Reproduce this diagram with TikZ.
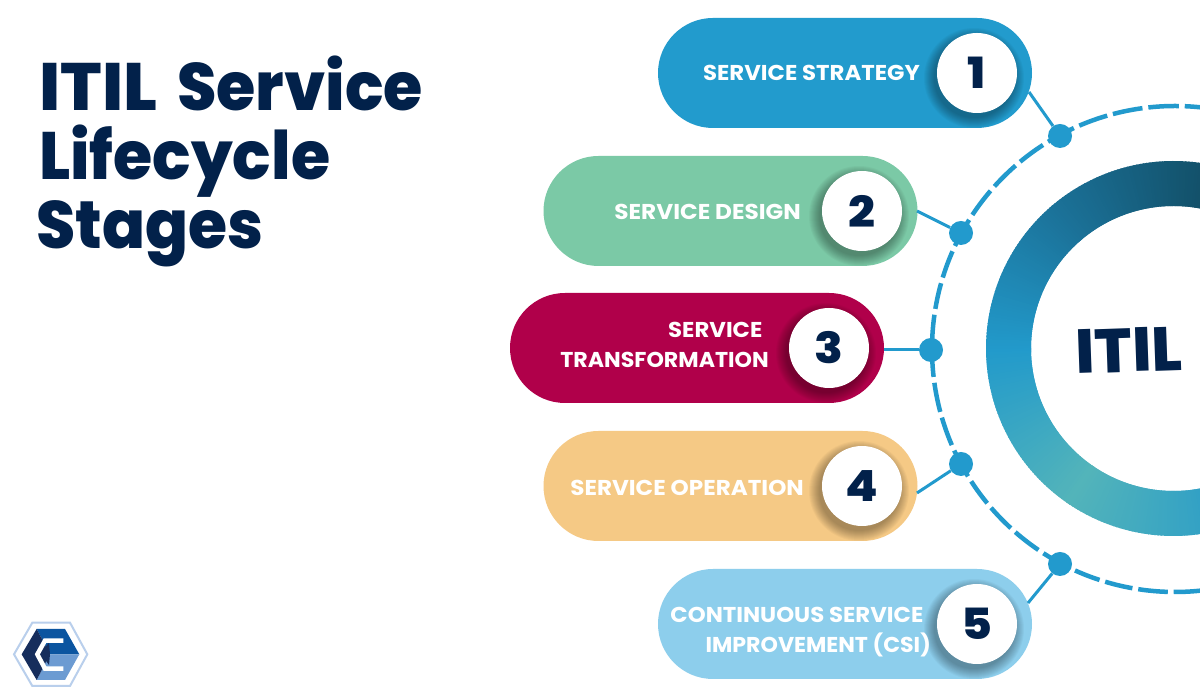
\documentclass[tikz,border=0pt]{standalone}
\usepackage{fontspec}
\setmainfont{Poppins}[BoldFont={Poppins Bold}]
\newfontfamily\heavyfont{Poppins ExtraBold}
\usetikzlibrary{shapes.misc}
\definecolor{navy}{HTML}{02214A}
\definecolor{ringblue}{HTML}{229ACD}
\definecolor{cOne}{HTML}{229BCD}
\definecolor{cTwo}{HTML}{7BC9A6}
\definecolor{cThree}{HTML}{B0004A}
\definecolor{cFour}{HTML}{F5C985}
\definecolor{cFive}{HTML}{8DCEEC}
\definecolor{gA}{HTML}{124E66}
\definecolor{gAB}{HTML}{1B7299}
\definecolor{gB}{HTML}{229ACB}
\definecolor{gC}{HTML}{53B4BA}
\definecolor{gD}{HTML}{2F9FC6}
\definecolor{logoEdge}{HTML}{B9CFEC}
\definecolor{logoTop}{HTML}{0B55A0}
\definecolor{logoLow}{HTML}{6C9BD2}
\definecolor{logoDark}{HTML}{162D5C}
\newcommand{\ringseg}[4]{%
  \foreach \a in {#1,...,#2}{%
    \pgfmathsetmacro\p{100*(\a-#1)/(#2-#1)}%
    \colorlet{segc}{#4!\p!#3}%
    \draw[line width=45pt,segc] (1173.5,351.5) ++(\a:165pt) arc[start angle=\a,end angle=\a+1.6,radius=165pt];
  }}
\newcommand{\discshadow}[2]{%
  \foreach \r in {40,41,...,50}{%
    \fill[black,opacity=.03] (#1-3,#2-5) circle[radius=\r pt];
  }}
\newcommand{\widen}[2]{\scalebox{#1}[1]{#2}}
\newcommand{\digit}[1]{\raisebox{-1pt}{\widen{1.1}{#1}}}
\tikzset{
  x=1pt,y=1pt,
  pillnode/.style={rounded rectangle,minimum width=374pt,minimum height=110pt,inner sep=0pt,draw=none},
  numdisc/.style={circle,fill=white,minimum size=80pt,inner sep=0pt,text=navy,font=\heavyfont\fontsize{43}{43}\selectfont},
  pilltxt/.style={text=white,inner sep=0pt,align=right,transform shape,xscale=1.06,font=\fontsize{21.5}{29.5}\selectfont\bfseries},
  dotnode/.style={circle,fill=ringblue,minimum size=24pt,inner sep=0pt},
  linkline/.style={draw=ringblue,line width=3pt},
  dashring/.style={draw=ringblue,line width=4.5pt}
}
\begin{document}
\begin{tikzpicture}
\useasboundingbox (0,0) rectangle (1200,700);
\clip (0,0) rectangle (1200,700);
\fill[white] (0,0) rectangle (1200,700);
% title
\node[anchor=north west,inner sep=0pt,text=navy,align=left,font=\heavyfont\fontsize{67}{68.7}\selectfont] (title) at (39,644) {\widen{1.03}{ITIL}\hspace{7pt} \widen{.95}{Service}\\\widen{.948}{Lifecycle}\\\hspace*{-3pt}\widen{.945}{Stages}};
% gradient ring
\ringseg{76}{130}{gA}{gAB}
\ringseg{130}{180}{gAB}{gB}
\ringseg{180}{235}{gB}{gC}
\ringseg{235}{285}{gC}{gD}
\node[text=navy,font=\heavyfont\fontsize{62}{62}\selectfont,rotate=2,inner sep=0pt] (itil) at (1129,350) {ITIL};
% dashed ring
\foreach \s/\e in {80/87.7,89.1/96.3,97.7/104.8,106.2/113.2,114.6/121.5,122.9/129.6,131/138,139.4/146.5,147.9/154.9,156.3/162.9,164.3/170.5,171.9/186.6,188/195,196.4/203.3,204.7/211.6,213/219.4,220.8/227.5,228.9/235.8,237.2/244.3,245.7/251.9,253.3/259.9,261.3/268.3,269.7/280}{
  \draw[dashring] (1175,351) ++(\s:243pt) arc[start angle=\s,end angle=\e,radius=243pt];
}
% pills
\node[pillnode,fill=cOne] (p1) at (845,627) {};
\node[pillnode,fill=cTwo] (p2) at (730.5,489) {};
\node[pillnode,fill=cThree] (p3) at (697,352) {};
\node[pillnode,fill=cFour] (p4) at (730.5,214) {};
\node[pillnode,fill=cFive] (p5) at (845,76) {};
% dots
\node[dotnode] (d1) at (1060,564) {};
\node[dotnode] (d2) at (961,467) {};
\node[dotnode] (d3) at (931,350) {};
\node[dotnode] (d4) at (961,236) {};
\node[dotnode] (d5) at (1060,136) {};
% connectors
\coordinate (c1) at (1029,608);
\coordinate (c2) at (917,489);
\coordinate (c3) at (884,350);
\coordinate (c4) at (917,207);
\coordinate (c5) at (1028,97);
\draw[linkline] (c1) -- (d1);
\draw[linkline] (c2) -- (d2);
\draw[linkline] (c3) -- (d3);
\draw[linkline] (c4) -- (d4);
\draw[linkline] (c5) -- (d5);
% disc shadows and number discs
\discshadow{977}{627}
\discshadow{862}{489}
\discshadow{829}{352}
\discshadow{862}{214}
\discshadow{977}{76}
\node[numdisc] (n1) at (977,627) {\digit{1}};
\node[numdisc] (n2) at (862,489) {\digit{2}};
\node[numdisc] (n3) at (829,352) {\digit{3}};
\node[numdisc] (n4) at (862,214) {\digit{4}};
\node[numdisc] (n5) at (977,76) {\digit{5}};
% labels
\node[pilltxt,anchor=east] (t1) at (920,627.5) {SERVICE STRATEGY};
\node[pilltxt,anchor=east,xscale=1.017] (t2) at (801,488.5) {SERVICE DESIGN};
\node[pilltxt,anchor=east] (t3) at (769,355) {SERVICE\hspace*{6pt}\\\widen{.972}{TRANSFORMATION}};
\node[pilltxt,anchor=east,xscale=1.013] (t4) at (804,212.5) {SERVICE OPERATION};
\node[pilltxt,anchor=east] (t5) at (931,68) {CONTINUOUS SERVICE\hspace*{7pt}\\\widen{.97}{IMPROVEMENT (CSI)}};
% logo
\begin{scope}[shift={(0pt,90pt)},x=0.3333pt,y=-0.3333pt]
  \draw[logoEdge,line width=2pt] (42,133)--(97,38)--(210,38)--(262,133)--(210,228)--(97,228)--cycle;
  \fill[logoTop] (110,57)--(195,57)--(238,133)--(150,133)--cycle;
  \fill[logoLow] (110,210)--(150,133)--(238,133)--(195,210)--cycle;
  \fill[logoDark] (65,133)--(110,57)--(150,133)--(110,210)--cycle;
  \fill[logoDark] (122,130)--(147,98)--(150,133)--(147,165)--cycle;
  \draw[white,line width=4.5pt] (190,92)--(135,92)--(112,133)--(135,176)--(190,176);
\end{scope}
\end{tikzpicture}
\end{document}
